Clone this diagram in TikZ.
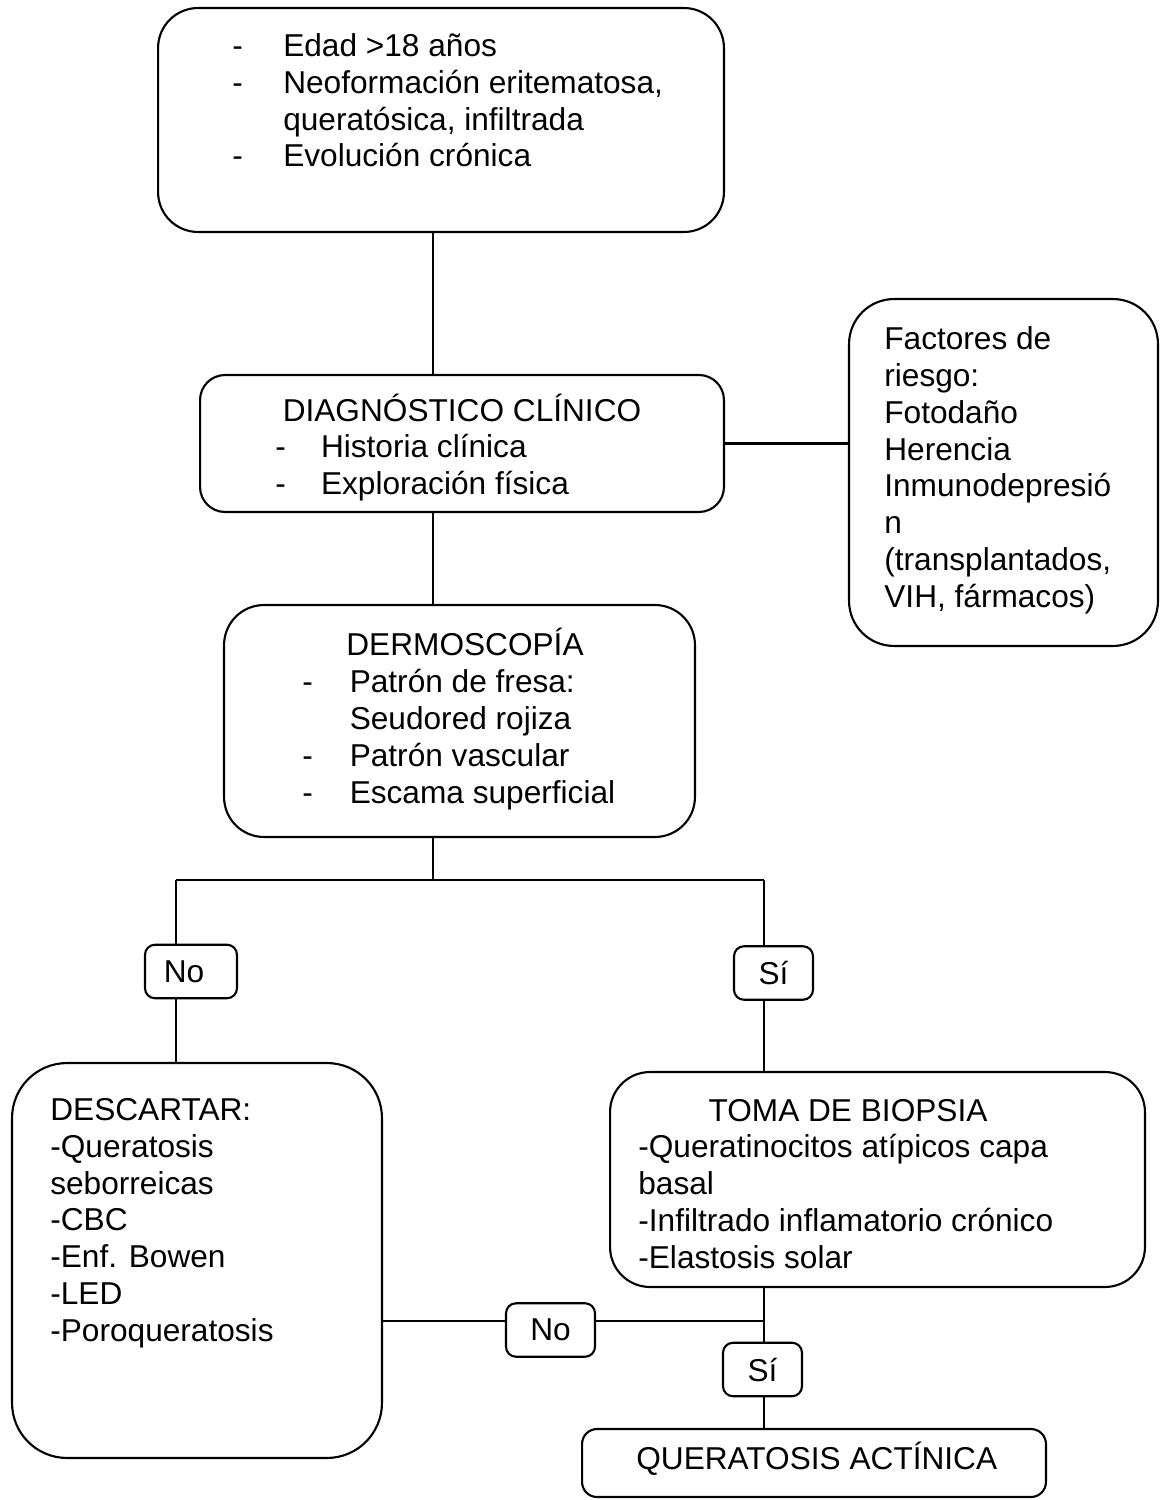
\documentclass[tikz,border=0pt]{standalone}
\usepackage{fontspec}
\setmainfont{Liberation Sans}
\usetikzlibrary{positioning}
\tikzset{
  caja/.style={draw, line width=1.2pt, rounded corners=#1, inner sep=0pt},
  caja/.default=0.8cm,
  etiq/.style={draw, line width=1.2pt, rounded corners=0.2cm, inner sep=0pt,
    minimum width=1.7cm, minimum height=1.07cm, font=\fontsize{18}{20.9}\selectfont},
  texto/.style={anchor=base west, align=left, inner sep=0pt, font=\fontsize{18}{20.9}\selectfont},
  linea/.style={line width=1.2pt},
}
\newcommand{\guion}[1][27pt]{\makebox[#1][l]{-}}

\begin{document}
\begin{tikzpicture}[x=0.02cm, y=-0.02cm]
  \useasboundingbox (0,0) rectangle (1164,1500);
  \clip (0,0) rectangle (1164,1500);

  % cajas
  \node[caja=0.8cm, minimum width=11.32cm, minimum height=4.48cm] (sintomas) at (441,120) {};
  \node[caja=0.5cm, minimum width=10.48cm, minimum height=2.74cm] (diag) at (462,443.5) {};
  \node[caja=0.9cm, minimum width=6.18cm, minimum height=6.94cm] (factores) at (1003.5,472.5) {};
  \node[caja=0.8cm, minimum width=9.42cm, minimum height=4.64cm] (dermo) at (459.5,721) {};
  \node[caja=1.1cm, minimum width=7.4cm, minimum height=7.9cm] (descartar) at (197,1260.5) {};
  \node[caja=0.8cm, minimum width=10.7cm, minimum height=4.3cm] (biopsia) at (877.5,1179.5) {};
  \node[caja=0.3cm, minimum width=9.28cm, minimum height=1.36cm] (qa) at (814,1463) {};

  \node[etiq, minimum width=1.84cm] (no1) at (191,971.5) {No\hspace*{0.28cm}};
  \node[etiq, minimum width=1.58cm] (si1) at (773.5,973) {Sí};
  \node[etiq, minimum width=1.78cm] (no2) at (550.5,1330) {No};
  \node[etiq, minimum width=1.58cm] (si2) at (762.5,1369.5) {Sí};

  % textos (base = ultima linea)
  \node[texto] (sintomas-t) at (232,167)
    {\guion[29pt]Edad >18 años\\ \guion[29pt]Neoformación eritematosa,\\
     \hspace*{29pt}queratósica, infiltrada\\ \guion[29pt]Evolución crónica};
  \node[texto, anchor=base] (diag-t) at (462,421) {DIAGNÓSTICO CLÍNICO};
  \node[texto] (diag-l) at (275,494) {\guion[26pt]Historia clínica\\ \guion[26pt]Exploración física};
  \node[texto] (factores-t) at (884,607)
    {Factores de\\riesgo:\\Fotodaño\\Herencia\\Inmunodepresió\\n\\(transplantados,\\VIH, fármacos)};
  \node[texto, anchor=base] (dermo-t) at (465,655) {DERMOSCOPÍA};
  \node[texto] (dermo-l) at (302,803)
    {\guion Patrón de fresa:\\ \hspace*{27pt}Seudored rojiza\\ \guion Patrón vascular\\ \guion Escama superficial};
  \node[texto] (descartar-t) at (50,1341)
    {DESCARTAR:\\-Queratosis\\seborreicas\\-CBC\\-Enf. Bowen\\-LED\\-Poroqueratosis};
  \node[texto, anchor=base] (biopsia-t) at (848,1121) {TOMA DE BIOPSIA};
  \node[texto] (biopsia-l) at (638,1268)
    {-Queratinocitos atípicos capa\\basal\\-Infiltrado inflamatorio crónico\\-Elastosis solar};
  \node[texto] (qa-t) at (636,1469) {QUERATOSIS ACTÍNICA};

  % uniones
  \coordinate (tronco) at (433,880);
  \coordinate (izq) at (176,880);
  \coordinate (der) at (764,880);
  \coordinate (cruce) at (764,1321);

  \draw[linea] (sintomas.south -| tronco) -- (diag.north -| tronco);
  \draw[linea] (diag.east) -- (diag.east -| factores.west);
  \draw[linea] (diag.south -| tronco) -- (dermo.north -| tronco);
  \draw[linea] (dermo.south -| tronco) -- (tronco);
  \draw[linea] (izq) -- (der);
  \draw[linea] (izq) -- (no1.north -| izq);
  \draw[linea] (no1.south -| izq) -- (descartar.north -| izq);
  \draw[linea] (der) -- (si1.north -| der);
  \draw[linea] (si1.south -| der) -- (biopsia.north -| der);
  \draw[linea] (biopsia.south -| cruce) -- (si2.north -| cruce);
  \draw[linea] (si2.south -| cruce) -- (qa.north -| cruce);
  \draw[linea] (descartar.east |- cruce) -- (no2.west |- cruce);
  \draw[linea] (no2.east |- cruce) -- (cruce);
\end{tikzpicture}
\end{document}
